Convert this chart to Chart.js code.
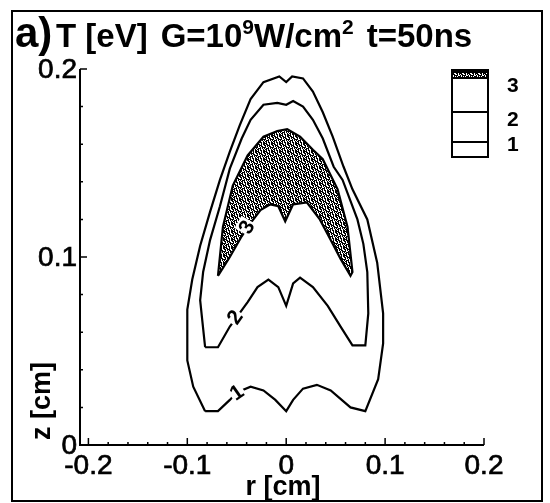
<!DOCTYPE html>
<html>
<head>
<meta charset="utf-8">
<script src="https://cdn.jsdelivr.net/npm/chart.js@4.4.0/dist/chart.umd.min.js"></script>
<style>
  html, body { margin: 0; padding: 0; background: #fff; }
  canvas { display: block; }
</style>
</head>
<body>
<canvas id="tempChart" width="550" height="503"></canvas>
<script>
// T = 1 eV contour (closed), r and z in cm
const c1R = [-0.082, -0.094, -0.100, -0.100, -0.095, -0.087, -0.077, -0.067, -0.057, -0.047,
             -0.036, -0.023, -0.007, 0.000, 0.006, 0.017, 0.027, 0.037, 0.047, 0.058,
             0.067, 0.082, 0.092, 0.098, 0.098, 0.093, 0.080, 0.065, 0.045, 0.031,
             0.017, 0.007, 0.000, -0.011, -0.023, -0.036, -0.050, -0.057, -0.069];
const c1Z = [0.018, 0.031, 0.045, 0.072, 0.088, 0.106, 0.124, 0.141, 0.156, 0.170,
             0.184, 0.193, 0.196, 0.193, 0.196, 0.195, 0.188, 0.177, 0.164, 0.148,
             0.136, 0.120, 0.097, 0.070, 0.054, 0.035, 0.018, 0.020, 0.029, 0.032,
             0.030, 0.024, 0.018, 0.024, 0.029, 0.031, 0.028, 0.024, 0.018];

// T = 2 eV contour
const c2R = [-0.082, -0.069, -0.057, -0.039, -0.029, -0.018, -0.008, 0.000, 0.007, 0.014,
             0.027, 0.042, 0.055, 0.067, 0.080, 0.083, 0.082, 0.078, 0.072, 0.057,
             0.048, 0.037, 0.027, 0.017, 0.007, 0.000, -0.009, -0.023, -0.036, -0.045,
             -0.057, -0.067, -0.077, -0.084, -0.087, -0.085];
const c2Z = [0.052, 0.052, 0.063, 0.076, 0.084, 0.088, 0.084, 0.074, 0.086, 0.089,
             0.084, 0.074, 0.063, 0.053, 0.053, 0.070, 0.092, 0.107, 0.120, 0.141,
             0.148, 0.163, 0.173, 0.180, 0.183, 0.181, 0.182, 0.181, 0.173, 0.163,
             0.147, 0.127, 0.109, 0.092, 0.077, 0.067];

// T = 3 eV contour (filled region)
const c3R = [-0.069, -0.064, -0.054, -0.039, -0.023, -0.009, 0.001, 0.014, 0.027, 0.037,
             0.052, 0.062, 0.067, 0.065, 0.055, 0.045, 0.034, 0.021, 0.007, -0.001,
             -0.008, -0.016, -0.026, -0.039, -0.045, -0.057];
const c3Z = [0.090, 0.116, 0.138, 0.154, 0.164, 0.167, 0.168, 0.164, 0.157, 0.152,
             0.136, 0.116, 0.092, 0.090, 0.099, 0.109, 0.120, 0.129, 0.128, 0.119,
             0.127, 0.128, 0.125, 0.116, 0.111, 0.100];

// where the level numbers sit on the contours
const labelText = ['1', '2', '3'];
const labelR = [-0.050, -0.052, -0.040];
const labelZ = [0.028, 0.068, 0.116];

const xTicks = [-0.2, -0.1, 0, 0.1, 0.2];
const yTicks = [0, 0.1, 0.2];
const levels = ['3', '2', '1'];

function closedLine(rs, zs) {
  const pts = rs.map((r, i) => ({ x: r, y: zs[i] }));
  pts.push({ x: rs[0], y: zs[0] });
  return pts;
}

// stipple texture like the scanned dot fill
const stippleTile = document.createElement('canvas');
stippleTile.width = 8;
stippleTile.height = 8;
(function () {
  const t = stippleTile.getContext('2d');
  const rows = ['#.##.#.#', '##.###..', '.#.#.##.', '##..#.##',
                '#.###.#.', '.##.#..#', '#.#.##.#', '###..#.#'];
  t.fillStyle = '#fff';
  t.fillRect(0, 0, 8, 8);
  t.fillStyle = '#000';
  rows.forEach((row, y) => [...row].forEach((c, x) => { if (c === '#') t.fillRect(x, y, 1, 1); }));
})();

const FONT = '"Liberation Sans", Arial, sans-serif';

function heavyText(ctx, t, x, y) {
  ctx.fillText(t, x, y);
  ctx.strokeText(t, x, y);
}

const contourExtras = {
  id: 'contourExtras',
  beforeDatasetsDraw(chart) {
    const ctx = chart.ctx;
    const pts = chart.getDatasetMeta(2).data;
    ctx.save();
    ctx.beginPath();
    pts.forEach((p, i) => i ? ctx.lineTo(p.x, p.y) : ctx.moveTo(p.x, p.y));
    ctx.closePath();
    ctx.fillStyle = ctx.createPattern(stippleTile, 'repeat');
    ctx.fill();
    ctx.restore();
  },
  afterDatasetsDraw(chart) {
    const ctx = chart.ctx;
    const xs = chart.scales.x, ys = chart.scales.y;
    const angles = [-35, -55, -60];
    ctx.save();
    ctx.font = 'bold 21px ' + FONT;
    ctx.textAlign = 'center';
    ctx.textBaseline = 'middle';
    labelText.forEach((t, i) => {
      ctx.save();
      ctx.translate(xs.getPixelForValue(labelR[i]), ys.getPixelForValue(labelZ[i]));
      ctx.rotate(angles[i] * Math.PI / 180);
      ctx.fillStyle = '#fff';
      ctx.fillRect(-7, -10, 14, 20);
      ctx.fillStyle = '#000';
      ctx.fillText(t, 0, 1);
      ctx.restore();
    });
    ctx.restore();
  },
  afterDraw(chart) {
    const ctx = chart.ctx;
    const xs = chart.scales.x, ys = chart.scales.y;
    const area = chart.chartArea;
    const y0 = ys.getPixelForValue(0);
    const xEnd = xs.getPixelForValue(0.2);
    const yTop = ys.getPixelForValue(0.2);

    ctx.save();
    ctx.strokeStyle = '#000';
    ctx.fillStyle = '#000';
    ctx.lineWidth = 2;

    // axes
    ctx.beginPath();
    ctx.moveTo(area.left, yTop);
    ctx.lineTo(area.left, y0);
    ctx.lineTo(xEnd, y0);
    ctx.stroke();

    // inward ticks
    ctx.lineWidth = 1.5;
    ctx.beginPath();
    for (let v = -0.2; v <= 0.2001; v += 0.02) {
      const px = xs.getPixelForValue(v);
      const major = Math.abs(v * 10 - Math.round(v * 10)) < 1e-6;
      ctx.moveTo(px, y0);
      ctx.lineTo(px, y0 - (major ? 7 : 3));
    }
    for (let v = 0; v <= 0.2001; v += 0.02) {
      const py = ys.getPixelForValue(v);
      const major = Math.abs(v * 10 - Math.round(v * 10)) < 1e-6;
      ctx.moveTo(area.left, py);
      ctx.lineTo(area.left + (major ? 7 : 3), py);
    }
    ctx.stroke();

    // tick labels
    ctx.lineWidth = 0.7;
    ctx.font = '28px ' + FONT;
    ctx.textAlign = 'center';
    ctx.textBaseline = 'alphabetic';
    xTicks.forEach(v => heavyText(ctx, String(v), xs.getPixelForValue(v), 474));
    ctx.textAlign = 'right';
    ctx.textBaseline = 'middle';
    yTicks.forEach(v => heavyText(ctx, String(v), area.left - 3, ys.getPixelForValue(v) + 1));

    // axis titles
    ctx.font = 'bold 27px ' + FONT;
    ctx.textAlign = 'center';
    ctx.textBaseline = 'alphabetic';
    ctx.fillText('r [cm]', 283, 495);
    ctx.save();
    ctx.translate(50, 401);
    ctx.rotate(-Math.PI / 2);
    ctx.fillText('z [cm]', 0, 0);
    ctx.restore();

    // title: [text, font size, baseline shift, gap after]
    ctx.textAlign = 'left';
    ctx.font = 'bold 42px ' + FONT;
    ctx.fillText('a)', 15, 47);
    const pieces = [['T [eV]', 33, 0, 13], ['G=10', 33, 0, 0], ['9', 21, -13, 0],
                    ['W/cm', 33, 0, 0], ['2', 21, -13, 13], ['t=50ns', 33, 0, 0]];
    let x = 56;
    pieces.forEach(([t, size, dy, gap]) => {
      ctx.font = 'bold ' + size + 'px ' + FONT;
      ctx.fillText(t, x, 47 + dy);
      x += ctx.measureText(t).width + gap;
    });

    // level legend
    const lx = 452, lw = 36, edges = [70, 78, 112, 142, 157];
    ctx.fillStyle = ctx.createPattern(stippleTile, 'repeat');
    ctx.fillRect(lx, edges[0], lw, edges[1] - edges[0]);
    ctx.fillStyle = '#000';
    ctx.fillRect(lx, edges[0], lw, 3);
    ctx.lineWidth = 2;
    ctx.strokeRect(lx, edges[0], lw, edges[4] - edges[0]);
    ctx.beginPath();
    [edges[1], edges[2], edges[3]].forEach(e => { ctx.moveTo(lx, e); ctx.lineTo(lx + lw, e); });
    ctx.stroke();
    ctx.font = 'bold 21px ' + FONT;
    ctx.textAlign = 'left';
    [92, 126, 151].forEach((by, i) => ctx.fillText(levels[i], 507, by));

    // outer frame
    ctx.lineWidth = 2;
    ctx.strokeRect(12, 11, 530, 490);
    ctx.restore();
  }
};

const lineStyle = { showLine: true, borderColor: '#000', borderWidth: 2.2, pointRadius: 0, tension: 0, fill: false };

new Chart(document.getElementById('tempChart').getContext('2d'), {
  type: 'scatter',
  data: {
    datasets: [
      { label: 'T=1', data: closedLine(c1R, c1Z), ...lineStyle },
      { label: 'T=2', data: closedLine(c2R, c2Z), ...lineStyle },
      { label: 'T=3', data: closedLine(c3R, c3Z), ...lineStyle }
    ]
  },
  options: {
    responsive: false,
    animation: false,
    devicePixelRatio: 1,
    layout: { padding: { left: 80, right: 66, top: 69, bottom: 58 } },
    scales: {
      x: { type: 'linear', min: -0.2085, max: 0.2, display: false },
      y: { type: 'linear', min: 0, max: 0.2, display: false }
    },
    plugins: { legend: { display: false }, tooltip: { enabled: false } }
  },
  plugins: [contourExtras]
});
</script>
</body>
</html>
